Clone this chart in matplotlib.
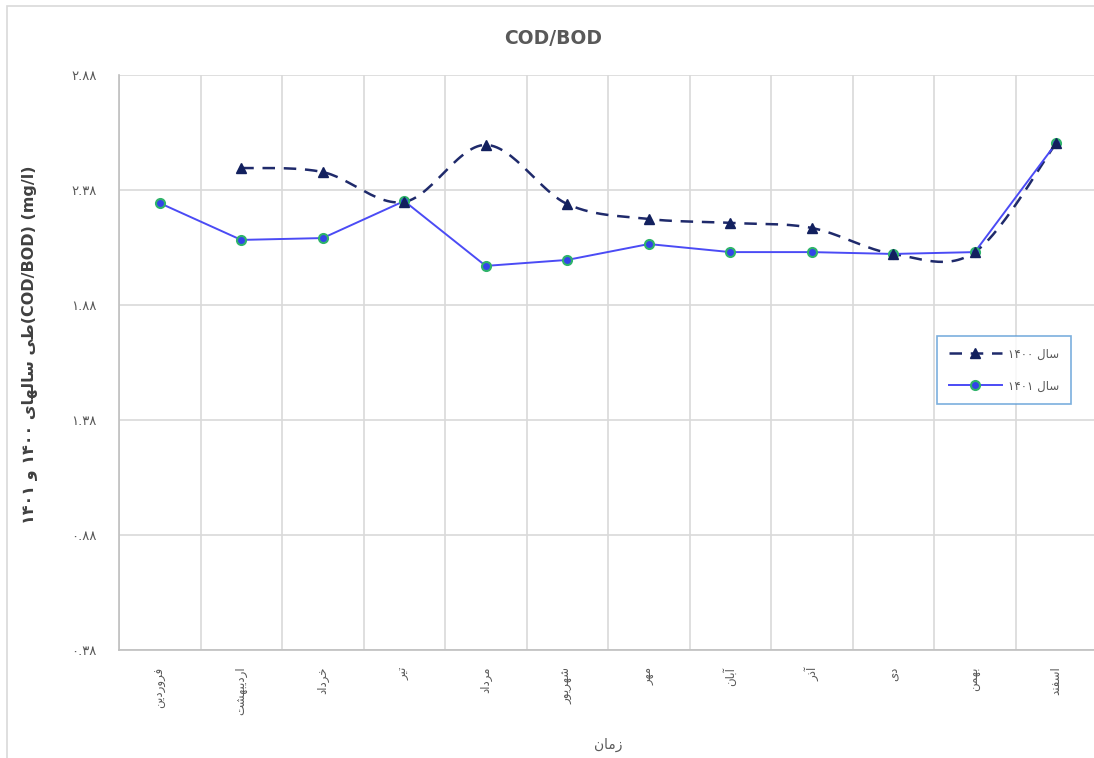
import re
import numpy as np
import matplotlib
matplotlib.use("Agg")
import matplotlib.pyplot as plt
from matplotlib.patches import Rectangle

# COD/BOD ratio per month, years 1400 and 1401
months = ['فروردین', 'اردیبهشت', 'خرداد', 'تیر', 'مرداد', 'شهریور',
          'مهر', 'آبان', 'آذر', 'دی', 'بهمن', 'اسفند']
ratio_1400 = [np.nan, 2.476, 2.458, 2.328, 2.576, 2.319,
              2.254, 2.237, 2.215, 2.102, 2.110, 2.584]
ratio_1401 = [2.323, 2.163, 2.171, 2.332, 2.050, 2.076,
              2.145, 2.110, 2.110, 2.102, 2.110, 2.584]
yticks = [0.38, 0.88, 1.38, 1.88, 2.38, 2.88]
series_names = ['سال ۱۴۰۰', 'سال ۱۴۰۱']

# --- minimal Persian shaping (matplotlib draws glyphs left-to-right, unjoined) ---
FORMS = {
    'ا': (0xFE8D, 2), 'آ': (0xFE81, 2), 'ب': (0xFE8F, 4), 'پ': (0xFB56, 4),
    'ت': (0xFE95, 4), 'خ': (0xFEA5, 4), 'د': (0xFEA9, 2), 'ذ': (0xFEAB, 2),
    'ر': (0xFEAD, 2), 'ز': (0xFEAF, 2), 'س': (0xFEB1, 4), 'ش': (0xFEB5, 4),
    'ط': (0xFEC1, 4), 'ف': (0xFED1, 4), 'ل': (0xFEDD, 4), 'م': (0xFEE1, 4),
    'ن': (0xFEE5, 4), 'ه': (0xFEE9, 4), 'و': (0xFEED, 2), 'ی': (0xFBFC, 4),
}


def fa(text):
    out = []
    for i, ch in enumerate(text):
        if ch not in FORMS:
            out.append(ch)
            continue
        base, n = FORMS[ch]
        prev = text[i - 1] if i > 0 else ''
        nxt = text[i + 1] if i + 1 < len(text) else ''
        join_prev = prev in FORMS and FORMS[prev][1] == 4
        join_next = n == 4 and nxt in FORMS
        if join_prev and join_next:
            k = 3
        elif join_prev:
            k = 1
        elif join_next:
            k = 2
        else:
            k = 0
        out.append(chr(base + k))
    shaped = ''.join(out)
    # reverse for right-to-left, keeping digit runs in reading order
    tokens = re.findall(r'[۰-۹0-9.]+|.', shaped)
    return ''.join(tokens[::-1])


def fa_num(v):
    s = f'{v:.2f}'
    return s.translate(str.maketrans('0123456789', '۰۱۲۳۴۵۶۷۸۹'))


def smooth(x, y, steps=30):
    # Bezier smoothing through every point (Catmull-Rom style control points)
    x = np.asarray(x, float)
    y = np.asarray(y, float)
    px = np.concatenate([[x[0]], x, [x[-1]]])
    py = np.concatenate([[y[0]], y, [y[-1]]])
    t = np.linspace(0, 1, steps)[:, None]
    xs, ys = [], []
    for i in range(1, len(x)):
        p0 = np.array([px[i], py[i]])
        p3 = np.array([px[i + 1], py[i + 1]])
        c1 = p0 + (p3 - np.array([px[i - 1], py[i - 1]])) / 6
        c2 = p3 - (np.array([px[i + 2], py[i + 2]]) - p0) / 6
        b = ((1 - t) ** 3) * p0 + 3 * ((1 - t) ** 2) * t * c1 + 3 * (1 - t) * t ** 2 * c2 + t ** 3 * p3
        xs.append(b[:, 0])
        ys.append(b[:, 1])
    return np.concatenate(xs), np.concatenate(ys)


plt.rcParams['font.family'] = ['DejaVu Sans']
text_gray = '#595959'
grid_gray = '#D9D9D9'

fig = plt.figure(figsize=(10.94, 7.58), dpi=100)
fig.patches.append(Rectangle((7 / 1094, -0.01), 1.1, 1 - 6 / 758 + 0.01, transform=fig.transFigure,
                             fill=False, edgecolor='#D9D9D9', linewidth=1.2))

ax = fig.add_axes([119 / 1094, 108 / 758, 978 / 1094, 575 / 758])
x = np.arange(len(months))

a1400 = np.array(ratio_1400)
valid = ~np.isnan(a1400)
sx, sy = smooth(x[valid], a1400[valid])
ax.plot(sx, sy, color='#1F2A6B', linewidth=1.8, dashes=(5, 3.5), zorder=3)
ax.plot(x[valid], a1400[valid], linestyle='none', marker='^', markersize=7.5,
        color='#12205E', zorder=4)
h1400, = ax.plot([], [], color='#1F2A6B', linewidth=1.8, dashes=(5, 3.5),
                 marker='^', markersize=7.5, markerfacecolor='#12205E', markeredgecolor='#12205E')

ax.plot(x, ratio_1401, color='#4B4BF5', linewidth=1.4, marker='o', markersize=6.5,
        markerfacecolor='#3344E8', markeredgecolor='#2FB36B', markeredgewidth=1.5, zorder=3)
h1401, = ax.plot([], [], color='#4B4BF5', linewidth=1.4, marker='o', markersize=6.5,
                 markerfacecolor='#3344E8', markeredgecolor='#2FB36B', markeredgewidth=1.5)

ax.set_xlim(-0.5, len(months) - 0.5)
ax.set_ylim(yticks[0], yticks[-1])
ax.set_yticks(yticks)
ax.set_yticklabels([fa_num(v) for v in yticks])
ax.set_xticks(x)
ax.set_xticklabels([fa(m) for m in months], rotation=90, va='top')
ax.set_xticks(np.arange(-0.5, len(months)), minor=True)

ax.grid(True, axis='y', color=grid_gray, linewidth=1.2)
ax.grid(True, axis='x', which='minor', color=grid_gray, linewidth=1.2)
ax.set_axisbelow(True)
ax.tick_params(axis='both', which='both', length=0, colors=text_gray)
ax.tick_params(axis='x', labelsize=8.5, pad=12)
ax.tick_params(axis='y', labelsize=9.5, pad=16)

for side in ['top', 'right']:
    ax.spines[side].set_visible(False)
for side in ['left', 'bottom']:
    ax.spines[side].set_color('#BFBFBF')
    ax.spines[side].set_linewidth(1.2)

fig.text(553 / 1094, 1 - 38 / 758, 'COD/BOD', fontsize=13.5, fontweight='bold',
         color=text_gray, ha='center', va='center')
ax.set_xlabel(fa('زمان'), fontsize=10, color=text_gray, labelpad=16)
ax.set_ylabel(fa('طی سالهای ۱۴۰۰ و ۱۴۰۱') + '(COD/BOD) (mg/l)', fontsize=11.5,
              fontweight='bold', color='#404040')
ax.yaxis.set_label_coords(-0.083, 0.53)

leg = ax.legend([h1400, h1401], [fa(n) for n in series_names], loc='center left',
                bbox_to_anchor=(812 / 978, (650 - 370) / 575), fontsize=8.5, frameon=True,
                fancybox=False, borderpad=1.0, labelspacing=1.6, handlelength=4.5,
                handletextpad=0.5)
leg.get_frame().set_edgecolor('#5B9BD5')
leg.get_frame().set_linewidth(1.2)
for t in leg.get_texts():
    t.set_color(text_gray)

fig.savefig('out.png', dpi=100)
